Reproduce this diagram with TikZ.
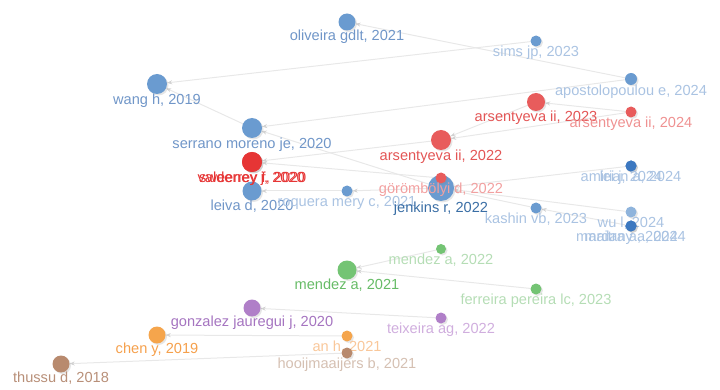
\documentclass[tikz,border=0pt]{standalone}
\usepackage{fontspec}
\setmainfont{Liberation Sans}
\usetikzlibrary{arrows.meta,shadows,backgrounds}

\definecolor{vosblue}{HTML}{6A9BD0}
\definecolor{vosdeep}{HTML}{3C78C0}
\definecolor{vosred}{HTML}{E85C5C}
\definecolor{voscrimson}{HTML}{E63535}
\definecolor{vosgreen}{HTML}{74C474}
\definecolor{vospurple}{HTML}{B07FC8}
\definecolor{vosorange}{HTML}{F5A54C}
\definecolor{vosbrown}{HTML}{B88A6E}

\definecolor{txtblue}{HTML}{7096C8}
\definecolor{txtbluepale}{HTML}{AAC3E2}
\definecolor{txtbluedark}{HTML}{3A6EA5}
\definecolor{txtred}{HTML}{E35555}
\definecolor{txtredpale}{HTML}{F2A0A0}
\definecolor{txtgreen}{HTML}{66BB66}
\definecolor{txtgreenpale}{HTML}{B5DDB5}
\definecolor{txtpurple}{HTML}{A574C0}
\definecolor{txtpurplepale}{HTML}{D0AEDE}
\definecolor{txtorange}{HTML}{F5A04C}
\definecolor{txtorangepale}{HTML}{F9C79A}
\definecolor{txtbrown}{HTML}{B88F78}
\definecolor{txtbrownpale}{HTML}{D5C0B2}

\tikzset{
	pub/.style={circle, inner sep=0pt, minimum size=#1, drop shadow={opacity=0.2, shadow xshift=1.5pt, shadow yshift=-1.5pt}},
	lab/.style={font=\fontsize{14.6}{15}\selectfont, inner sep=0pt, text height=10pt, text depth=3pt},
	cite/.style={draw=black!9, line width=1pt, -{Stealth[length=5pt, width=4pt, color=black!18]}}
}

\begin{document}
\begin{tikzpicture}[x=1pt, y=-1pt]
		%%%%% START %%%%%
		
		\useasboundingbox (0,0) rectangle (720,390);
		
		% blue cluster
		\node[pub=17pt, fill=vosblue, label={[lab, text=txtblue]below:{oliveira gdlt, 2021}}] (oliveira) at (347,22) {};
		\node[pub=11pt, fill=vosblue, label={[lab, text=txtbluepale]below:{sims jp, 2023}}] (sims) at (536,41) {};
		\node[pub=12pt, fill=vosblue, label={[lab, text=txtbluepale]below:{apostolopoulou e, 2024}}] (apostolopoulou) at (631,79) {};
		\node[pub=20pt, fill=vosblue, label={[lab, text=txtblue]below:{wang h, 2019}}] (wang) at (157,84) {};
		\node[pub=20pt, fill=vosblue, label={[lab, text=txtblue]below:{serrano moreno je, 2020}}] (serrano) at (252,128) {};
		\node[pub=19pt, fill=vosblue, label={[lab, text=txtblue]below:{leiva d, 2020}}] (leiva) at (252,191) {};
		\node[pub=11pt, fill=vosblue, label={[lab, text=txtbluepale]below:{roquera mery c, 2021}}] (roquera) at (347,191) {};
		\node[pub=26pt, fill=vosblue, label={[lab, text=txtbluedark, label distance=1pt]below:{jenkins r, 2022}}] (jenkins) at (441,188) {};
		\node[pub=11pt, fill=vosblue, label={[lab, text=txtbluepale]below:{kashin vb, 2023}}] (kashin) at (536,208) {};
		\node[pub=11pt, fill=vosdeep, label={[lab, text=txtbluepale]below:{amirian a, 2024}}] (amirian) at (631,166) {};
		\node[pub=11pt, fill=vosdeep, label={[lab, text=txtbluepale]below:{lei j, 2024}}] (lei) at (631,166) {};
		\node[pub=11pt, fill=vosblue!75!white, label={[lab, text=txtbluepale]below:{wu l, 2024}}] (wu) at (631,212) {};
		\node[pub=11pt, fill=vosdeep, label={[lab, text=txtbluepale]below:{maitra a, 2024}}] (maitra) at (631,226) {};
		\node[pub=11pt, fill=vosdeep, label={[lab, text=txtbluepale]below:{mardany a, 2024}}] (mardany) at (631,226) {};
		
		% red cluster
		\node[pub=18pt, fill=vosred, label={[lab, text=txtred]below:{arsentyeva ii, 2023}}] (arsentyeva23) at (536,102) {};
		\node[pub=11pt, fill=vosred, label={[lab, text=txtredpale!80!txtred]below:{arsentyeva ii, 2024}}] (arsentyeva24) at (631,112) {};
		\node[pub=20pt, fill=vosred, label={[lab, text=txtred]below:{arsentyeva ii, 2022}}] (arsentyeva22) at (441,140) {};
		\node[pub=20pt, fill=voscrimson, label={[lab, text=voscrimson]below:{sweeney j, 2020}}] (sweeney) at (252,162) {};
		\node[pub=20pt, fill=voscrimson, label={[lab, text=voscrimson]below:{valderrey f, 2020}}] (valderrey) at (252,162) {};
		\node[pub=11pt, fill=vosred, label={[lab, text=txtredpale]below:{görömbölyi d, 2022}}] (gorombolyi) at (441,178) {};
		
		% green cluster
		\node[pub=19pt, fill=vosgreen, label={[lab, text=txtgreen]below:{mendez a, 2021}}] (mendez21) at (347,270) {};
		\node[pub=10pt, fill=vosgreen, label={[lab, text=txtgreenpale]below:{mendez a, 2022}}] (mendez22) at (441,249) {};
		\node[pub=11pt, fill=vosgreen, label={[lab, text=txtgreenpale]below:{ferreira pereira lc, 2023}}] (ferreira) at (536,289) {};
		
		% purple, orange, brown
		\node[pub=17pt, fill=vospurple, label={[lab, text=txtpurple]below:{gonzalez jauregui j, 2020}}] (gonzalez) at (252,308) {};
		\node[pub=11pt, fill=vospurple, label={[lab, text=txtpurplepale]below:{teixeira ag, 2022}}] (teixeira) at (441,318) {};
		\node[pub=17pt, fill=vosorange, label={[lab, text=txtorange]below:{chen y, 2019}}] (chen) at (157,335) {};
		\node[pub=11pt, fill=vosorange, label={[lab, text=txtorangepale]below:{an h, 2021}}] (anh) at (347,336) {};
		\node[pub=17pt, fill=vosbrown, label={[lab, text=txtbrown]below:{thussu d, 2018}}] (thussu) at (61,364) {};
		\node[pub=11pt, fill=vosbrown, label={[lab, text=txtbrownpale]below:{hooijmaaijers b, 2021}}] (hooijmaaijers) at (347,353) {};
		
		% citation links, newer -> older
		\begin{scope}[on background layer]
			\draw[cite] (apostolopoulou) -- (oliveira);
			\draw[cite] (sims) -- (wang);
			\draw[cite] (serrano) -- (wang);
			\draw[cite] (apostolopoulou) -- (serrano);
			\draw[cite] (jenkins) -- (serrano);
			
			\draw[cite] (arsentyeva22) -- (valderrey);
			\draw[cite] (gorombolyi) -- (valderrey);
			\draw[cite] (arsentyeva23) -- (arsentyeva22);
			\draw[cite] (arsentyeva24) -- (arsentyeva22);
			\draw[cite] (arsentyeva24) -- (arsentyeva23);
			
			\draw[cite] (roquera) -- (leiva);
			\draw[cite] (jenkins) -- (roquera);
			\draw[cite] (amirian) -- (jenkins);
			\draw[cite] (kashin) -- (jenkins);
			\draw[cite] (wu) -- (jenkins);
			\draw[cite] (maitra) -- (kashin);
			
			\draw[cite] (mendez22) -- (mendez21);
			\draw[cite] (ferreira) -- (mendez21);
			\draw[cite] (teixeira) -- (gonzalez);
			\draw[cite] (anh) -- (chen);
			\draw[cite] (hooijmaaijers) -- (thussu);
		\end{scope}
		
		%%%%% END %%%%%
	\end{tikzpicture}
\end{document}
